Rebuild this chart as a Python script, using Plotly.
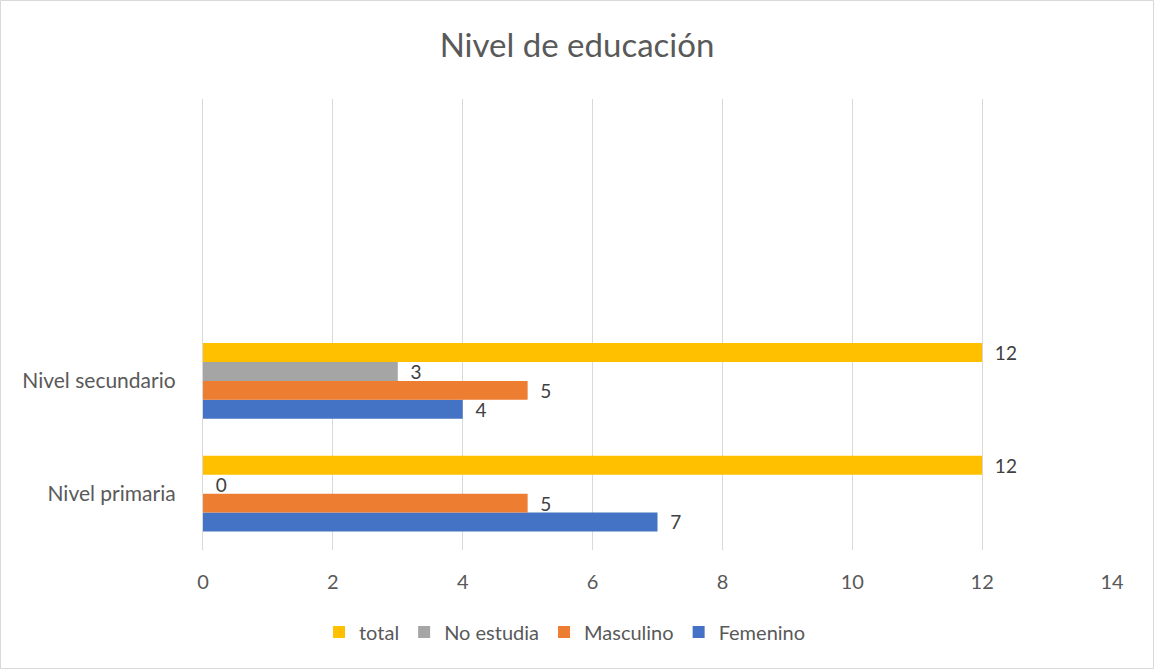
import plotly.graph_objects as go

categories = ["Nivel primaria", "Nivel secundario"]
femenino = [7, 4]
masculino = [5, 5]
no_estudia = [0, 3]
total = [12, 12]
x_ticks = [0, 2, 4, 6, 8, 10, 12, 14]

series = [
    ("Femenino", femenino, "#4472C4"),
    ("Masculino", masculino, "#ED7D31"),
    ("No estudia", no_estudia, "#A5A5A5"),
    ("total", total, "#FFC000"),
]

FONT = "Lato, 'Open Sans', sans-serif"
fig = go.Figure()
for name, vals, color in series:
    fig.add_trace(go.Bar(
        y=categories, x=vals, name=name, orientation="h",
        marker=dict(color=color, line=dict(width=0)),
        text=vals, texttemplate="\u00a0\u00a0%{x}", textposition="outside",
        textfont=dict(family=FONT, size=19, color="#404040"),
        constraintext="none", cliponaxis=False,
    ))

W, H = 1154, 669
L, R, T, B = 203, 42, 99, 119
pw, ph = W - L - R, H - T - B

fig.update_layout(
    width=W, height=H,
    margin=dict(l=L, r=R, t=T, b=B),
    paper_bgcolor="white", plot_bgcolor="white",
    barmode="group", bargap=0.33, bargroupgap=0,
    title=dict(text="Nivel de educación", x=0.5, xanchor="center", y=1 - 45 / H, yanchor="middle",
               font=dict(family=FONT, size=33, color="#595959")),
    font=dict(family=FONT, color="#595959"),
    xaxis=dict(range=[0, 14], tickvals=x_ticks, showgrid=True, gridcolor="#D9D9D9", gridwidth=1.3,
               zeroline=False, showline=False, tickfont=dict(size=20, color="#595959"),
               ticks="", ticklabelstandoff=18),
    yaxis=dict(type="category", categoryarray=categories, range=[-0.5, 3.5], showgrid=False,
               zeroline=False, showline=True, linecolor="#D9D9D9", linewidth=1.3,
               tickfont=dict(size=21, color="#595959"), ticks="", ticklabelstandoff=22),
    legend=dict(orientation="h", traceorder="reversed", x=(565 - L) / pw, xanchor="center",
                y=-(632 - (T + ph)) / ph, yanchor="middle",
                font=dict(size=20, color="#595959"), itemwidth=30),
    showlegend=True,
    shapes=[dict(type="rect", xref="paper", yref="paper",
                 x0=(0.5 - L) / pw, x1=(W - 0.5 - L) / pw,
                 y0=-(H - 0.5 - T - ph) / ph, y1=1 + (T - 0.5) / ph,
                 line=dict(color="#D9D9D9", width=1), layer="below")],
)

fig.write_html("out.html", config={"displayModeBar": False},
               post_script="document.body.style.margin='0';")
